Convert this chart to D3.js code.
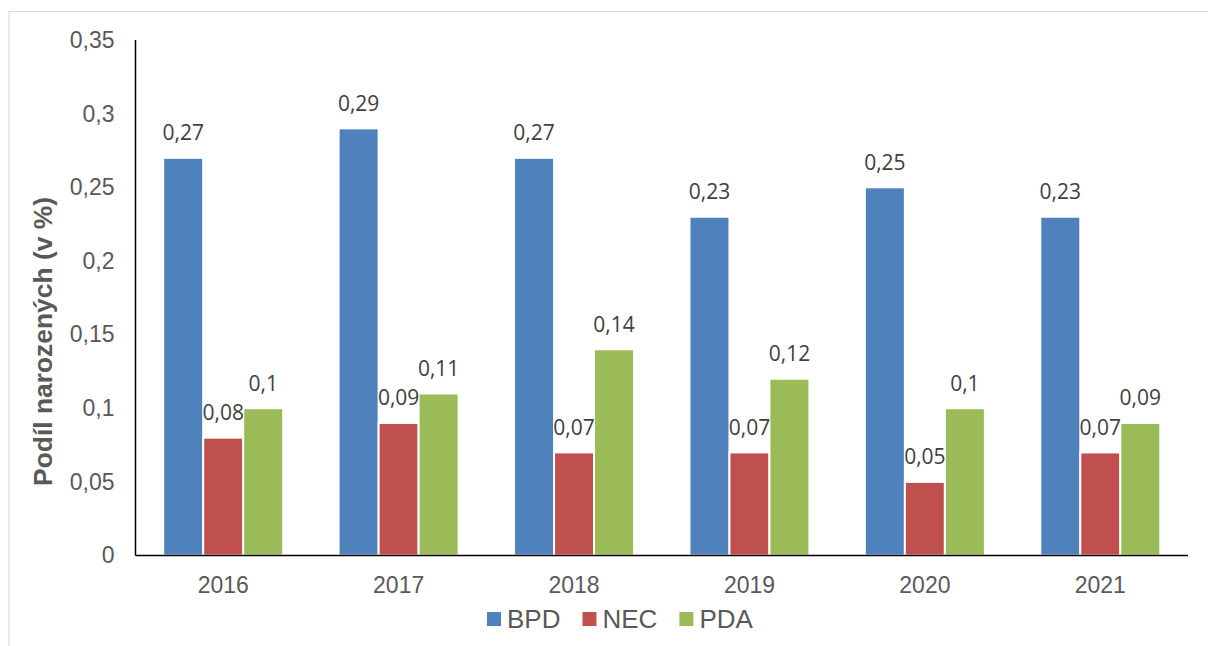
<!DOCTYPE html>
<html>
<head>
<meta charset="utf-8">
<script src="https://cdn.jsdelivr.net/npm/d3@7"></script>
<style>
  body { margin: 0; background: #fff; }
  svg { display: block; }
</style>
</head>
<body>
<svg id="chart" width="1208" height="646"></svg>
<script>
// data
const years = ["2016", "2017", "2018", "2019", "2020", "2021"]
const seriesNames = ["BPD", "NEC", "PDA"]
const bpd = [0.27, 0.29, 0.27, 0.23, 0.25, 0.23]
const nec = [0.08, 0.09, 0.07, 0.07, 0.05, 0.07]
const pda = [0.10, 0.11, 0.14, 0.12, 0.10, 0.09]
const yTicks = [0, 0.05, 0.1, 0.15, 0.2, 0.25, 0.3, 0.35]
const colors = ["#4F81BD", "#C0504D", "#9BBB59"]
const yTitle = "Podíl narozených (v %)"

const seriesValues = [bpd, nec, pda]
const rows = years.map((y, i) => ({
    year: y,
    values: seriesNames.map((s, j) => ({name: s, value: seriesValues[j][i], color: colors[j]}))
}))

const czech = d3.formatLocale({decimal: ",", thousands: " ", grouping: [3], currency: ["", " Kč"]})
const fmt = czech.format("~g")

const svg = d3.select("#chart")
const margin = {top: 40, left: 135.5, right: 20, bottom: 90.5}
const width = 1208, height = 646

// faint outer frame
svg.append("rect")
    .attr("x", 9).attr("y", 11.5)
    .attr("width", 1300).attr("height", 700)
    .attr("fill", "none")
    .attr("stroke", "#d9d9d9")

const x = d3.scaleBand()
    .domain(years)
    .range([margin.left, width - margin.right])
    .paddingInner(0.316)
    .paddingOuter(0.158)

const xs = d3.scaleBand()
    .domain(seriesNames)
    .range([0, x.bandwidth()])

const y = d3.scaleLinear()
    .domain([0, 0.35])
    .range([height - margin.bottom, margin.top])

// y tick labels
const yAxis = svg.append("g")
    .attr("transform", "translate(" + margin.left + ",0)")
    .call(d3.axisLeft(y).tickValues(yTicks).tickFormat(fmt).tickSize(0).tickPadding(21))
yAxis.select(".domain").remove()
yAxis.selectAll("text")
    .style("font-family", "Liberation Sans, Arial, sans-serif")
    .style("font-size", "23px")
    .attr("fill", "#595959")

// bars
const groups = svg.append("g")
    .selectAll("g")
    .data(rows)
    .enter()
    .append("g")
    .attr("transform", d => "translate(" + x(d.year) + ",0)")

groups.selectAll("rect")
    .data(d => d.values)
    .enter()
    .append("rect")
    .attr("x", d => xs(d.name))
    .attr("y", d => y(d.value))
    .attr("width", xs.bandwidth())
    .attr("height", d => y(0) - y(d.value))
    .attr("fill", d => d.color)
    .attr("stroke", "#fff")
    .attr("stroke-width", 2)

groups.selectAll("text")
    .data(d => d.values)
    .enter()
    .append("text")
    .attr("x", d => xs(d.name) + xs.bandwidth() / 2)
    .attr("y", d => y(d.value) - 17.5)
    .attr("text-anchor", "middle")
    .style("font-family", "Open Sans, sans-serif")
    .style("font-size", "21px")
    .attr("fill", "#404040")
    .text(d => fmt(d.value))

// axis lines
svg.append("line")
    .attr("x1", margin.left).attr("x2", margin.left)
    .attr("y1", y(0.35)).attr("y2", y(0))
    .attr("stroke", "#000").attr("stroke-width", 1.5)
svg.append("line")
    .attr("x1", margin.left).attr("x2", width - margin.right)
    .attr("y1", y(0)).attr("y2", y(0))
    .attr("stroke", "#000").attr("stroke-width", 1.5)

// x labels
const xAxis = svg.append("g")
    .attr("transform", "translate(0," + y(0) + ")")
    .call(d3.axisBottom(x).tickSize(0).tickPadding(21))
xAxis.select(".domain").remove()
xAxis.selectAll("text")
    .style("font-family", "Liberation Sans, Arial, sans-serif")
    .style("font-size", "23px")
    .attr("fill", "#595959")

// y title
svg.append("text")
    .attr("transform", "translate(52," + 341.5 + ") rotate(-90)")
    .attr("text-anchor", "middle")
    .style("font-family", "Liberation Sans, Arial, sans-serif")
    .style("font-size", "26.4px")
    .style("font-weight", "bold")
    .attr("fill", "#595959")
    .text(yTitle)

// legend
const legend = svg.append("g")
let cursor = 487
seriesNames.forEach((name, i) => {
    legend.append("rect")
        .attr("x", cursor).attr("y", 612)
        .attr("width", 14).attr("height", 14)
        .attr("fill", colors[i])
    const t = legend.append("text")
        .attr("x", cursor + 20).attr("y", 627.5)
        .style("font-family", "Liberation Sans, Arial, sans-serif")
        .style("font-size", "26px")
        .attr("fill", "#595959")
        .text(name)
    cursor += 20 + t.node().getComputedTextLength() + 22
})
</script>
</body>
</html>
